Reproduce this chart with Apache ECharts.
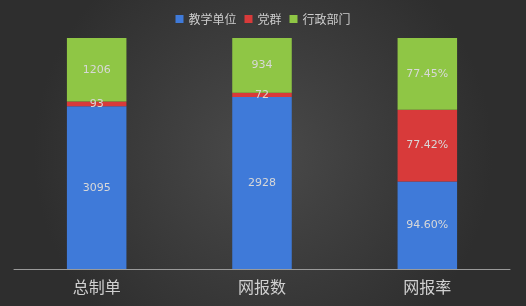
<!DOCTYPE html>
<html>
<head>
<meta charset="utf-8">
<script src="https://cdn.jsdelivr.net/npm/echarts@6/dist/echarts.min.js"></script>
<style>
  html, body { margin: 0; padding: 0; background: #333; }
  #chart { width: 526px; height: 306px; }
</style>
</head>
<body>
<div id="chart"></div>
<script>
// 类别与数据
var categories = ['总制单', '网报数', '网报率'];
var teaching = [3095, 2928, 94.60];   // 教学单位
var party = [93, 72, 77.42];          // 党群
var admin = [1206, 934, 77.45];       // 行政部门
var isRate = [false, false, true];

// 每根柱子按百分比堆叠
function pct(arr, i) {
  var total = teaching[i] + party[i] + admin[i];
  return arr[i] / total * 100;
}
function labelOf(arr) {
  return function (p) {
    var v = arr[p.dataIndex];
    return isRate[p.dataIndex] ? v.toFixed(2) + '%' : String(v);
  };
}
function makeSeries(name, arr, color) {
  return {
    name: name,
    type: 'bar',
    stack: 'all',
    barWidth: '36%',
    itemStyle: { color: color },
    label: {
      show: true,
      position: 'inside',
      color: '#d8d8d8',
      fontSize: 11,
      fontFamily: 'DejaVu Sans',
      formatter: labelOf(arr)
    },
    data: arr.map(function (v, i) { return pct(arr, i); })
  };
}

var chart = echarts.init(document.getElementById('chart'));
chart.setOption({
  backgroundColor: {
    type: 'radial', x: 0.5, y: 0.5, r: 0.75,
    colorStops: [{ offset: 0, color: '#4a4a4a' }, { offset: 1, color: '#2e2e2e' }]
  },
  animation: false,
  legend: {
    top: 8,
    left: 'center',
    itemWidth: 8,
    itemHeight: 8,
    itemGap: 8,
    icon: 'rect',
    textStyle: { color: '#cccccc', fontSize: 12, fontFamily: 'Noto Sans CJK SC' },
    data: ['教学单位', '党群', '行政部门']
  },
  grid: { left: 14, right: 16, top: 38, bottom: 37 },
  xAxis: {
    type: 'category',
    data: categories,
    axisLine: { lineStyle: { color: '#9a9a9a', width: 1 } },
    axisTick: { show: false },
    axisLabel: { color: '#d0d0d0', fontSize: 16, margin: 10, fontFamily: 'Noto Sans CJK SC' }
  },
  yAxis: { type: 'value', min: 0, max: 100, show: false, splitLine: { show: false } },
  series: [
    makeSeries('教学单位', teaching, '#3f7ad9'),
    makeSeries('党群', party, '#d83a3a'),
    makeSeries('行政部门', admin, '#8fc645')
  ]
});
</script>
</body>
</html>
